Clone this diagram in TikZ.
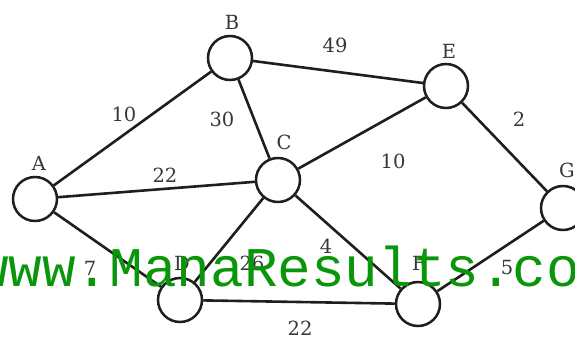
\documentclass[tikz,border=0pt]{standalone}
\usepackage{fontspec}
\setmainfont{DejaVu Serif}
\newfontfamily\wmfont{Liberation Mono}
\definecolor{inkc}{RGB}{30,30,30}
\definecolor{labc}{RGB}{55,55,55}
\definecolor{wmgreen}{RGB}{10,150,10}
\begin{document}
\begin{tikzpicture}[x=1pt,y=-1pt,
  vtx/.style={circle,draw=inkc,line width=2.5pt,minimum size=44pt,inner sep=0pt,fill=white},
  edge/.style={draw=inkc,line width=2.6pt},
  lab/.style={text=labc,font=\fontsize{19.5}{19.5}\selectfont,inner sep=0pt},
  wm/.style={text=wmgreen,font=\wmfont\fontsize{56}{56}\selectfont,inner sep=0pt,anchor=base west}]
\useasboundingbox (0,0) rectangle (575,339);
% vertices
\node[vtx] (A) at (35,199) {};
\node[vtx] (B) at (230,58) {};
\node[vtx] (C) at (278,180) {};
\node[vtx] (E) at (446,86) {};
\node[vtx] (G) at (563,208) {};
\node[vtx] (D) at (180,300) {};
\node[vtx] (F) at (418,304) {};
% edges
\draw[edge] (A) -- (B);
\draw[edge] (A) -- (C);
\draw[edge] (A) -- (D);
\draw[edge] (B) -- (C);
\draw[edge] (B) -- (E);
\draw[edge] (C) -- (E);
\draw[edge] (C) -- (D);
\draw[edge] (C) -- (F);
\draw[edge] (E) -- (G);
\draw[edge] (G) -- (F);
\draw[edge] (D) -- (F);
% vertex labels
\node[lab] (lA) at (39,163) {A};
\node[lab] (lB) at (232,22) {B};
\node[lab] (lC) at (284,142) {C};
\node[lab] (lE) at (449,51) {E};
\node[lab] (lG) at (567,170) {G};
\node[lab] (lD) at (182,263) {D};
\node[lab] (lF) at (419,263) {F};
% edge labels
\node[lab] (wAB) at (124,114) {10};
\node[lab] (wBC) at (222,119) {30};
\node[lab] (wAC) at (165,175) {22};
\node[lab] (wBE) at (335,45) {49};
\node[lab] (wCE) at (393,161) {10};
\node[lab] (wEG) at (519,119) {2};
\node[lab] (wAD) at (90,268) {7};
\node[lab] (wCD) at (252,263) {26};
\node[lab] (wCF) at (326,246) {4};
\node[lab] (wGF) at (507,268) {5};
\node[lab] (wDF) at (300,328) {22};
% watermark
\node[wm] (wmk) at (-25,286) {www.ManaResults.co};
\end{tikzpicture}
\end{document}
